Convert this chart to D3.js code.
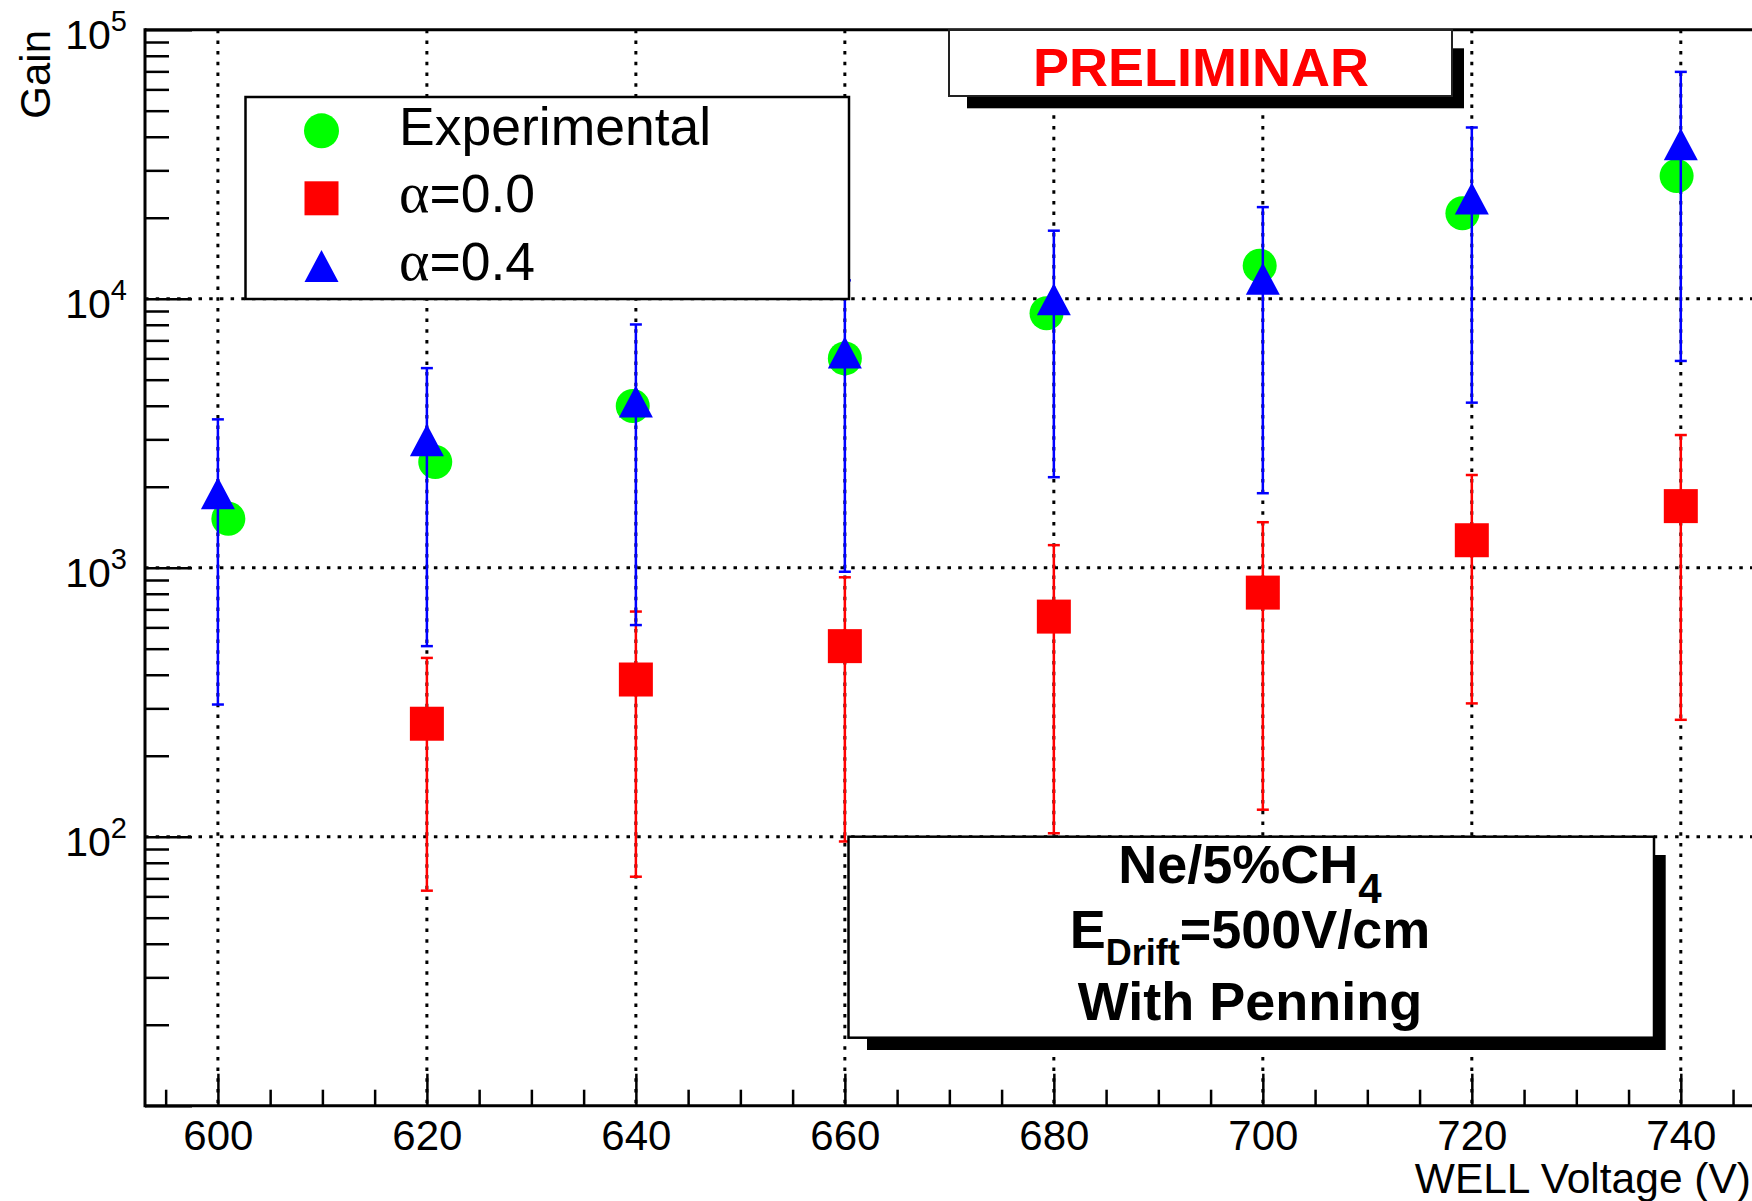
<!DOCTYPE html>
<html>
<head>
<meta charset="utf-8">
<script src="https://cdn.jsdelivr.net/npm/d3@7"></script>
<style>
  html, body { margin: 0; padding: 0; background: #fff; }
  svg { display: block; font-family: "Liberation Sans", Arial, Helvetica, sans-serif; }
</style>
</head>
<body>
<svg id="chart" width="1752" height="1201"></svg>
<script>
'use strict';

// tick values
var majorX = [600, 620, 640, 660, 680, 700, 720, 740];
var minorX = d3.range(595, 750, 5).filter(v => v % 20 !== 0);
var decades = [10, 100, 1000, 10000, 100000];
var labelDecades = [100, 1000, 10000, 100000];
var gridY = [100, 1000, 10000];

// Experimental (green circles)
var expVolt = [601, 620.8, 639.7, 660, 679.3, 699.7, 719.1, 739.6];
var expGain = [1520, 2470, 3990, 6000, 8830, 13270, 20780, 28600];

// alpha = 0.0 (red squares)
var a0Volt = [620, 640, 660, 680, 700, 720, 740];
var a0Gain = [263, 384, 511, 658, 808, 1265, 1694];
var a0Low  = [63, 71, 96, 103, 126, 313, 272];
var a0High = [462, 687, 921, 1213, 1476, 2211, 3113];

// alpha = 0.4 (blue triangles)
var a4Volt = [600, 620, 640, 660, 680, 700, 720, 740];
var a4Gain = [1892, 2980, 4150, 6310, 9960, 11870, 23580, 37500];
var a4Low  = [310, 511, 612, 966, 2170, 1892, 4107, 5870];
var a4High = [3560, 5520, 8020, 11700, 17900, 21900, 43300, 69700];

var legendLabels = ['Experimental', '\u03b1=0.0', '\u03b1=0.4'];
var infoLines = [['Ne/5%CH', '4', ''], ['E', 'Drift', '=500V/cm'], ['With Penning', '', '']];

var frame = {left: 145, top: 29.7, right: 1760, bottom: 1105.7};

var x = d3.scaleLinear().domain([600, 740]).range([217.9, 1680.8]);
var y = d3.scaleLog().domain([10, 100000]).range([frame.bottom, frame.top]);

var svg = d3.select('#chart');

// grid
var grid = svg.append('g').attr('stroke', '#000').attr('stroke-width', 3).attr('stroke-dasharray', '3.5,7.2');
grid.selectAll('line.gx').data(majorX).enter().append('line')
    .attr('x1', d => x(d)).attr('x2', d => x(d))
    .attr('y1', frame.top).attr('y2', frame.bottom);
grid.selectAll('line.gy').data(gridY).enter().append('line')
    .attr('x1', frame.left).attr('x2', frame.right)
    .attr('y1', d => y(d)).attr('y2', d => y(d));

// axes (ticks pointing inward)
function styleAxis(g) {
  g.select('.domain').remove();
  g.selectAll('.tick line').attr('stroke', '#000').attr('stroke-width', 2.5);
}

svg.append('g').attr('transform', 'translate(0,' + frame.bottom + ')')
  .call(d3.axisBottom(x).tickValues(minorX).tickSize(-16).tickSizeOuter(0).tickFormat(''))
  .call(styleAxis);

var xAxis = svg.append('g').attr('transform', 'translate(0,' + frame.bottom + ')')
  .call(d3.axisBottom(x).tickValues(majorX).tickSize(-32).tickSizeOuter(0).tickFormat(d3.format('d')))
  .call(styleAxis);
xAxis.selectAll('.tick text')
  .attr('y', 44.3).attr('dy', null)
  .attr('font-size', 42).attr('fill', '#000')
  .attr('font-family', '"Liberation Sans", Arial, sans-serif');

var minorY = [];
decades.slice(0, 4).forEach(function(dv) { for (var m = 2; m <= 9; m++) minorY.push(dv * m); });

svg.append('g').attr('transform', 'translate(' + frame.left + ',0)')
  .call(d3.axisLeft(y).tickValues(minorY).tickSize(-24).tickSizeOuter(0).tickFormat(''))
  .call(styleAxis);

svg.append('g').attr('transform', 'translate(' + frame.left + ',0)')
  .call(d3.axisLeft(y).tickValues(decades).tickSize(-47).tickSizeOuter(0).tickFormat(''))
  .call(styleAxis);

// y labels 10^k
svg.append('g').selectAll('text').data(labelDecades).enter().append('text')
  .attr('x', 127).attr('y', d => y(d) + 19.6)
  .attr('text-anchor', 'end').attr('font-size', 41)
  .each(function(d) {
    var t = d3.select(this);
    t.append('tspan').text('10');
    t.append('tspan').attr('dy', -18.6).attr('font-size', 29).text(Math.round(Math.log10(d)));
  });

// frame
var fr = svg.append('g').attr('stroke', '#000').attr('stroke-width', 3).attr('fill', 'none');
fr.append('line').attr('x1', frame.left).attr('x2', frame.left).attr('y1', frame.top - 1.5).attr('y2', frame.bottom + 1.5);
fr.append('line').attr('x1', frame.left).attr('x2', frame.right).attr('y1', frame.top).attr('y2', frame.top);
fr.append('line').attr('x1', frame.left).attr('x2', frame.right).attr('y1', frame.bottom).attr('y2', frame.bottom);

// axis titles
svg.append('text').attr('x', 1751).attr('y', 1193).attr('text-anchor', 'end')
  .attr('font-size', 42.5).text('WELL Voltage (V)');
svg.append('text').attr('transform', 'translate(50,30) rotate(-90)').attr('text-anchor', 'end')
  .attr('font-size', 42).text('Gain');

// markers
function circleMark(g, cx, cy, color) {
  g.append('circle').attr('cx', cx).attr('cy', cy).attr('r', 17).attr('fill', color);
}
function squareMark(g, cx, cy, color) {
  g.append('rect').attr('x', cx - 17).attr('y', cy - 17).attr('width', 34).attr('height', 34).attr('fill', color);
}
function triMark(g, cx, cy, color) {
  g.append('path').attr('d', 'M' + cx + ',' + (cy - 16) + 'L' + (cx + 17) + ',' + (cy + 16) + 'L' + (cx - 17) + ',' + (cy + 16) + 'Z')
    .attr('fill', color);
}

function errorBars(g, xs, lo, hi, color) {
  xs.forEach(function(v, i) {
    var cx = x(v);
    g.append('line').attr('x1', cx).attr('x2', cx).attr('y1', y(lo[i])).attr('y2', y(hi[i]))
      .attr('stroke', color).attr('stroke-width', 2.5);
    [lo[i], hi[i]].forEach(function(e) {
      g.append('line').attr('x1', cx - 6).attr('x2', cx + 6).attr('y1', y(e)).attr('y2', y(e))
        .attr('stroke', color).attr('stroke-width', 2.5);
    });
  });
}

var data = svg.append('g');
expVolt.forEach((v, i) => circleMark(data, x(v), y(expGain[i]), '#00ff00'));
errorBars(data, a0Volt, a0Low, a0High, '#ff0000');
a0Volt.forEach((v, i) => squareMark(data, x(v), y(a0Gain[i]), '#ff0000'));
errorBars(data, a4Volt, a4Low, a4High, '#0000ff');
a4Volt.forEach((v, i) => triMark(data, x(v), y(a4Gain[i]), '#0000ff'));

// legend
var leg = svg.append('g');
leg.append('rect').attr('x', 245.5).attr('y', 97).attr('width', 603.5).attr('height', 202)
  .attr('fill', '#fff').attr('stroke', '#000').attr('stroke-width', 2.5);
var legY = [130.8, 198.3, 266];
var legMarks = [circleMark, squareMark, triMark];
var legColors = ['#00ff00', '#ff0000', '#0000ff'];
legendLabels.forEach(function(lab, i) {
  if (i === 0) leg.append('circle').attr('cx', 321.5).attr('cy', legY[i]).attr('r', 17.5).attr('fill', legColors[i]);
  else legMarks[i](leg, 321.5, legY[i], legColors[i]);
  var t = leg.append('text').attr('x', 399).attr('y', legY[i] + 14).attr('font-size', 53.5);
  if (lab.charAt(0) === '\u03b1') {
    t.append('tspan').attr('font-family', '"Liberation Serif", "Times New Roman", serif').attr('font-size', 58).text('\u03b1');
    t.append('tspan').text(lab.slice(1));
  } else {
    t.text(lab);
  }
});

// PRELIMINAR box
var pre = svg.append('g');
pre.append('rect').attr('x', 967).attr('y', 48.3).attr('width', 1464 - 967).attr('height', 108.3 - 48.3).attr('fill', '#000');
pre.append('rect').attr('x', 949).attr('y', 30).attr('width', 1452 - 949).attr('height', 96 - 30)
  .attr('fill', '#fff').attr('stroke', '#222').attr('stroke-width', 2);
pre.append('text').attr('x', 1201).attr('y', 86).attr('text-anchor', 'middle')
  .attr('font-size', 54).attr('font-weight', 'bold').attr('fill', '#ff0000').text('PRELIMINAR');

// info box
var info = svg.append('g');
info.append('rect').attr('x', 867).attr('y', 855).attr('width', 1665.7 - 867).attr('height', 1050 - 855).attr('fill', '#000');
info.append('rect').attr('x', 848.5).attr('y', 836.7).attr('width', 1654 - 848.5).attr('height', 1037.7 - 836.7)
  .attr('fill', '#fff').attr('stroke', '#000').attr('stroke-width', 2.5);
var infoBase = [883, 948, 1020];
var subSize = [42, 36, 0];
var subShift = [20, 17, 0];
infoLines.forEach(function(ln, i) {
  var t = info.append('text').attr('x', 1250).attr('y', infoBase[i]).attr('text-anchor', 'middle')
    .attr('font-size', 54).attr('font-weight', 'bold');
  t.append('tspan').text(ln[0]);
  if (ln[1]) t.append('tspan').attr('dy', subShift[i]).attr('font-size', subSize[i]).text(ln[1]);
  if (ln[2]) t.append('tspan').attr('dy', -subShift[i]).text(ln[2]);
});
</script>
</body>
</html>
